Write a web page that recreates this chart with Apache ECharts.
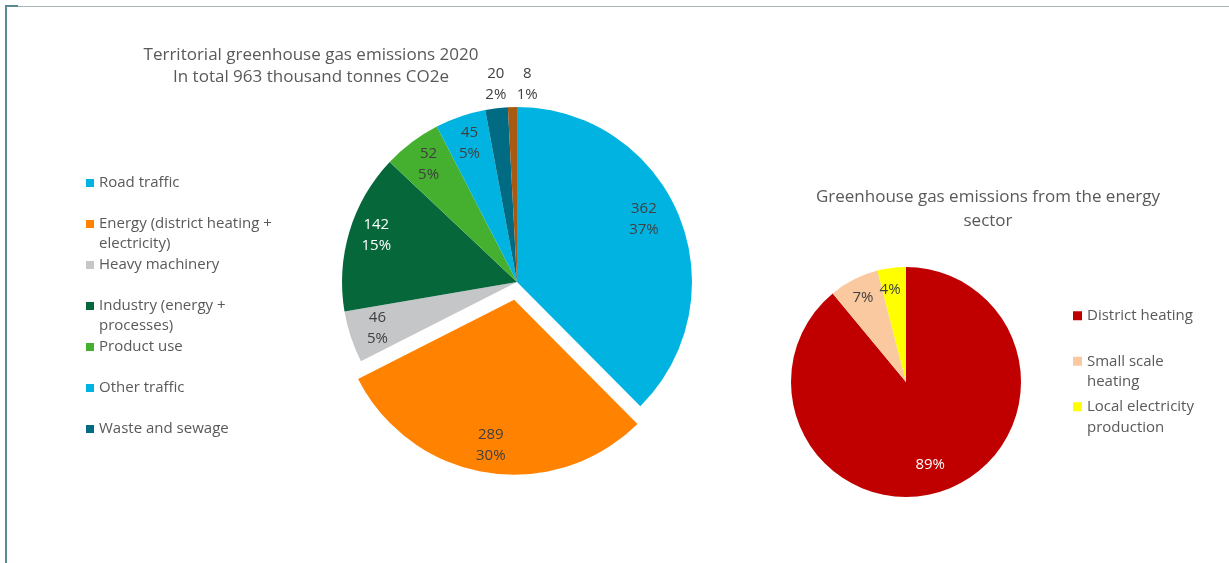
<!DOCTYPE html>
<html>
<head>
<meta charset="utf-8">
<title>Greenhouse gas emissions 2020</title>
<script src="https://cdn.jsdelivr.net/npm/echarts@6/dist/echarts.min.js"></script>
<style>
    html, body { margin: 0; padding: 0; background: #fff; }
    #chart_Emissions_Main { width: 1229px; height: 563px; }
</style>
</head>
<body>
<div id="chart_Emissions_Main"></div>
<script>
// territorial emissions, thousand tonnes CO2e
var sectorNames = ['Road traffic', 'Energy (district heating + electricity)', 'Heavy machinery',
    'Industry (energy + processes)', 'Product use', 'Other traffic', 'Waste and sewage', 'Agriculture'];
var sectorValues = [362, 289, 46, 142, 52, 45, 20, 8];
var sectorPercents = [37, 30, 5, 15, 5, 5, 2, 1];
var sectorColors = ['#00b3e0', '#ff8300', '#c4c6c8', '#05673a', '#45b02f', '#00b3e0', '#006b82', '#a85a12'];

// energy sector split, %
var energyNames = ['District heating', 'Small scale heating', 'Local electricity production'];
var energyValues = [89, 7, 4];
var energyColors = ['#c00000', '#fbc9a0', '#ffff00'];

// legend line breaks
var legendText = {
    'Energy (district heating + electricity)': 'Energy (district heating +\nelectricity)',
    'Industry (energy + processes)': 'Industry (energy +\nprocesses)',
    'Small scale heating': 'Small scale\nheating',
    'Local electricity production': 'Local electricity\nproduction'
};

var FONT = '"Open Sans", "Noto Sans", sans-serif';
var TXT = '#595959';
var LBL = '#404040';

var chart_Emissions_Main = null;

window.onresize = function () {
    if (chart_Emissions_Main) {
        chart_Emissions_Main.resize();
    }
};

var sectorData = [];
var sectorLabelData = [];
for (var i = 0; i < sectorNames.length; i++) {
    var item = {
        name: sectorNames[i],
        value: sectorValues[i],
        selected: i === 1,
        itemStyle: { color: sectorColors[i] }
    };
    if (i === 7) {
        // small leader line for the thin slice, text itself is invisible
        item.label = { show: true, position: 'outside', formatter: '.', color: 'rgba(0,0,0,0)', fontSize: 6 };
        item.labelLine = { show: true, length: 9, length2: 5, lineStyle: { color: '#a6a6a6', width: 1 } };
    }
    sectorData.push(item);

    var lb = { color: i === 3 ? '#fff' : LBL };
    if (i === 0) { lb.offset = [-9, -7]; }
    if (i === 3) { lb.offset = [0, -4]; }
    if (i === 6) { lb.offset = [-4, -52]; }
    if (i === 7) { lb.offset = [14, -51]; }
    sectorLabelData.push({
        name: sectorNames[i],
        value: sectorValues[i],
        selected: i === 1,
        label: lb
    });
}

var energyData = [];
var energyLabelData = [];
for (var j = 0; j < energyNames.length; j++) {
    energyData.push({ name: energyNames[j], value: energyValues[j], itemStyle: { color: energyColors[j] } });
    energyLabelData.push({
        name: energyNames[j],
        value: energyValues[j],
        label: j === 0 ? { color: '#fff', offset: [-8, -7] } : (j === 2 ? { color: LBL, offset: [-4, 2] } : { color: LBL })
    });
}

// blank first and last line: the first text line sits level with the icon,
// and every legend row has the same height
var legendFormatter = function (name) {
    var t = legendText[name];
    return t ? (' \n' + t) : (' \n' + name + '\n ');
};

chart_Emissions_Main = echarts.init(document.getElementById('chart_Emissions_Main'));

var option = {
    animation: false,
    textStyle: { fontFamily: FONT },
    title: [{
        text: 'Territorial greenhouse gas emissions 2020\nIn total 963 thousand tonnes CO2e',
        left: 311,
        top: 44,
        textAlign: 'center',
        padding: 0,
        textStyle: { fontFamily: FONT, fontSize: 17, fontWeight: 'normal', color: TXT, lineHeight: 22 }
    }, {
        text: 'Greenhouse gas emissions from the energy\nsector',
        left: 988,
        top: 185,
        textAlign: 'center',
        padding: 0,
        textStyle: { fontFamily: FONT, fontSize: 17, fontWeight: 'normal', color: TXT, lineHeight: 24 }
    }],
    legend: [{
        data: sectorNames.slice(0, 7),
        orient: 'vertical',
        left: 86,
        top: 153,
        padding: 0,
        itemWidth: 8,
        itemHeight: 8,
        itemGap: -19,
        icon: 'rect',
        selectedMode: false,
        formatter: legendFormatter,
        textStyle: { fontFamily: FONT, fontSize: 15, color: TXT, lineHeight: 20 }
    }, {
        data: energyNames,
        orient: 'vertical',
        left: 1073,
        top: 285,
        padding: 0,
        itemWidth: 9,
        itemHeight: 9,
        itemGap: -16,
        icon: 'rect',
        selectedMode: false,
        formatter: legendFormatter,
        textStyle: { fontFamily: FONT, fontSize: 15, color: TXT, lineHeight: 20.5 }
    }],
    graphic: [
        { type: 'rect', shape: { x: 5, y: 5, width: 2, height: 560 }, style: { fill: '#5d8995' }, silent: true },
        { type: 'rect', shape: { x: 5, y: 5, width: 13, height: 2 }, style: { fill: '#5d8995' }, silent: true },
        { type: 'rect', shape: { x: 18, y: 6, width: 1211, height: 1 }, style: { fill: '#a3b6b6' }, silent: true }
    ],
    series: [{
        name: 'sectors',
        type: 'pie',
        center: [517, 282],
        radius: 175,
        startAngle: 90,
        selectedMode: 'single',
        selectedOffset: 18,
        silent: true,
        avoidLabelOverlap: false,
        label: { show: false },
        labelLine: { show: false },
        emphasis: { disabled: true },
        data: sectorData
    }, {
        // transparent ring, only carries the value labels
        name: 'sectorLabels',
        type: 'pie',
        center: [517, 282],
        radius: [113, 175],
        startAngle: 90,
        selectedMode: 'single',
        selectedOffset: 18,
        silent: true,
        avoidLabelOverlap: false,
        itemStyle: { color: 'rgba(0,0,0,0)', borderWidth: 0 },
        label: {
            show: true,
            position: 'inside',
            fontFamily: FONT,
            fontSize: 15,
            lineHeight: 21,
            color: LBL,
            formatter: function (p) {
                return p.value + '\n' + sectorPercents[p.dataIndex] + '%';
            }
        },
        labelLine: { show: false },
        emphasis: { disabled: true },
        data: sectorLabelData
    }, {
        name: 'energy',
        type: 'pie',
        center: [906, 382],
        radius: 115,
        startAngle: 90,
        silent: true,
        label: { show: false },
        labelLine: { show: false },
        emphasis: { disabled: true },
        data: energyData
    }, {
        name: 'energyLabels',
        type: 'pie',
        center: [906, 382],
        radius: [69, 115],
        startAngle: 90,
        silent: true,
        avoidLabelOverlap: false,
        itemStyle: { color: 'rgba(0,0,0,0)', borderWidth: 0 },
        label: {
            show: true,
            position: 'inside',
            fontFamily: FONT,
            fontSize: 15,
            color: LBL,
            formatter: '{c}%'
        },
        labelLine: { show: false },
        emphasis: { disabled: true },
        data: energyLabelData
    }]
};

chart_Emissions_Main.setOption(option);
</script>
</body>
</html>
